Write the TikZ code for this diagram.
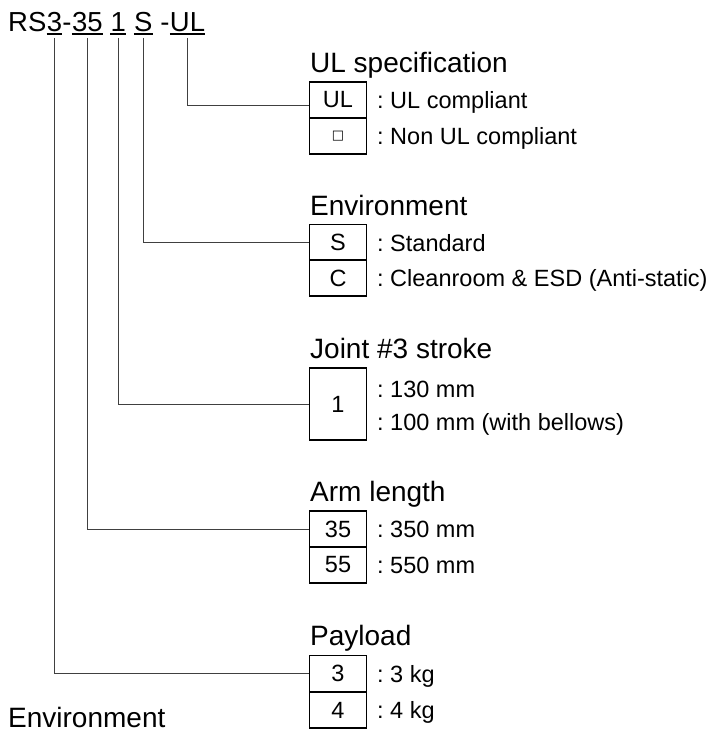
\documentclass[tikz,border=0pt]{standalone}
\usepackage{fontspec}
\setmainfont{Liberation Sans}
\newfontfamily\symfont{DejaVu Sans}
\frenchspacing
\begin{document}
\begin{tikzpicture}[x=1pt,y=-1pt,
  big/.style={font=\fontsize{27.5}{30}\selectfont, inner sep=0pt, anchor=base west},
  head/.style={font=\fontsize{28}{30}\selectfont, inner sep=0pt, anchor=base west},
  small/.style={font=\fontsize{23.5}{26}\selectfont, inner sep=0pt, anchor=base west},
  cell/.style={draw, line width=1.8pt, minimum width=57pt, minimum height=36pt, inner sep=0pt, font=\fontsize{23.5}{26}\selectfont},
  ul/.style={line width=1.8pt},
  conn/.style={draw=black!75, line width=1pt}]
\useasboundingbox (0,0) rectangle (715,730);

% title with underlined fields
\node[big] (t1) at (8,32) {RS};
\node[big] (u1) at (t1.base east) {3};
\node[big] (t2) at (u1.base east) {-};
\node[big] (u2) at (t2.base east) {35};
\node[big] (u3) at ([xshift=7.65pt]u2.base east) {1};
\node[big] (u4) at ([xshift=7.65pt]u3.base east) {S};
\node[big] (t3) at ([xshift=7.65pt]u4.base east) {-};
\node[big] (u5) at (t3.base east) {UL};
\foreach \n in {u1,u2,u3,u4,u5}
  \draw[ul] ([yshift=-2.3pt]\n.base west) -- ([yshift=-2.3pt]\n.base east);
\foreach \n/\c in {u1/c1,u2/c2,u3/c3,u4/c4,u5/c5}
  \coordinate (\c) at ([yshift=-6pt]\n.base);

% UL specification
\node[head] (h1) at (310,72.5) {UL specification};
\node[cell] (ul1) at (338,100) {UL};
\node[cell] (ul2) at (338,136) {{\symfont\fontsize{13}{13}\selectfont □}};
\node[small] (d11) at (377,108.5) {: UL compliant};
\node[small] (d12) at (377,144.5) {: Non UL compliant};

% Environment
\node[head] (h2) at (310,215.5) {Environment};
\node[cell] (env1) at (338,242.5) {S};
\node[cell] (env2) at (338,278) {C};
\node[small] (d21) at (377,251) {: Standard};
\node[small] (d22) at (377,286.5) {: Cleanroom \& ESD (Anti-static)};

% Joint #3 stroke
\node[head] (h3) at (310,358.5) {Joint \#3 stroke};
\node[cell, minimum height=72pt] (jt) at (338,404) {1};
\node[small] (d31) at (377,397) {: 130 mm};
\node[small] (d32) at (377,430) {: 100 mm (with bellows)};

% Arm length
\node[head] (h4) at (310,501.5) {Arm length};
\node[cell] (arm1) at (338,529) {35};
\node[cell] (arm2) at (338,565) {55};
\node[small] (d41) at (377,537.5) {: 350 mm};
\node[small] (d42) at (377,573.5) {: 550 mm};

% Payload
\node[head] (h5) at (310,645.5) {Payload};
\node[cell] (pay1) at (338,673.5) {3};
\node[cell] (pay2) at (338,710) {4};
\node[small] (d51) at (377,682) {: 3 kg};
\node[small] (d52) at (377,718.5) {: 4 kg};

% connectors
\draw[conn] (c5) |- ([yshift=-6pt]ul1.west);
\draw[conn] (c4) |- (env1.west);
\draw[conn] (c3) |- (jt.west);
\draw[conn] (c2) |- (arm1.west);
\draw[conn] (c1) |- (pay1.west);

% bottom-left label
\node[head] (foot) at (8,727.5) {Environment};
\end{tikzpicture}
\end{document}
